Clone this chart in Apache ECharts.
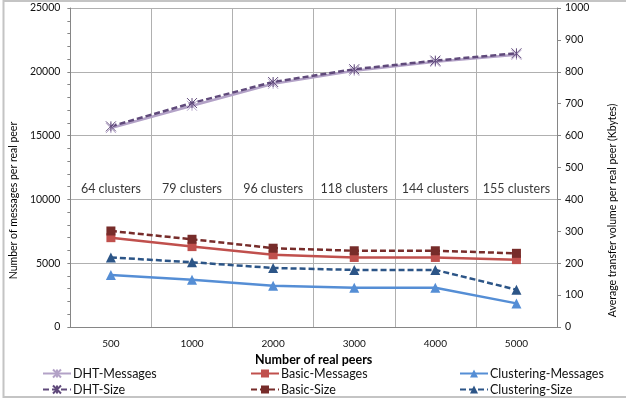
<!DOCTYPE html>
<html>
<head>
<meta charset="utf-8">
<script src="https://cdn.jsdelivr.net/npm/echarts@6/dist/echarts.min.js"></script>
<style>
  html, body { margin: 0; padding: 0; background: #fff; }
  #main { width: 626px; height: 400px; }
</style>
</head>
<body>
<div id="main"></div>
<script>
// x categories (number of real peers)
var peers = ['500', '1000', '2000', '3000', '4000', '5000'];
var clusters = ['64 clusters', '79 clusters', '96 clusters', '118 clusters', '144 clusters', '155 clusters'];

// messages per real peer (left axis)
var dhtMessages = [15590, 17340, 19060, 20080, 20780, 21330];
var basicMessages = [7000, 6300, 5660, 5450, 5450, 5280];
var clusteringMessages = [4070, 3700, 3230, 3080, 3080, 1850];

// transfer volume per real peer, Kbytes (right axis)
var dhtSize = [629, 702, 768, 808, 835, 858];
var basicSize = [301, 275, 247, 239, 239, 231];
var clusteringSize = [218, 203, 185, 179, 179, 117];

var clusterLabelY = 10815; // where the cluster text row sits on the left axis

var FONT = 'Lato';
var starPath = 'path://M0,0L10,10M10,0L0,10M5,0L5,10';

var chart = echarts.init(document.getElementById('main'), null, { renderer: 'canvas' });

function plain(v) { return String(v); }

function lineSeries(name, data, axis, color, dashed, symbol, size) {
  return {
    name: name,
    type: 'line',
    yAxisIndex: axis,
    data: data,
    symbol: symbol,
    symbolSize: size,
    showAllSymbol: true,
    lineStyle: { color: color, width: 2.5, type: dashed ? [6, 3] : 'solid' },
    itemStyle: { color: color, borderColor: color, borderWidth: symbol === starPath ? 1 : 0 },
    emphasis: { disabled: true },
    animation: false
  };
}

function legendAt(name, left, top) {
  return {
    data: [name],
    left: left,
    top: top,
    itemWidth: 28,
    itemHeight: 10,
    itemGap: 2,
    padding: 0,
    textStyle: { fontFamily: FONT, fontSize: 12.5, color: '#111', padding: [0, 0, 0, -3] },
    selectedMode: false
  };
}

var option = {
  backgroundColor: '#fff',
  textStyle: { fontFamily: FONT },
  grid: { left: 68, right: 57, top: 8, bottom: 73 },
  graphic: [{
    type: 'rect',
    shape: { x: 3.5, y: 1, width: 660, height: 396 },
    style: { fill: 'none', stroke: '#c4c4c4', lineWidth: 2 },
    silent: true
  }],
  legend: [
    legendAt('DHT-Messages', 42, 367),
    legendAt('Basic-Messages', 250, 367),
    legendAt('Clustering-Messages', 459, 367),
    legendAt('DHT-Size', 42, 383),
    legendAt('Basic-Size', 250, 383),
    legendAt('Clustering-Size', 459, 383)
  ],
  xAxis: {
    type: 'category',
    data: peers,
    boundaryGap: true,
    name: 'Number of real peers',
    nameLocation: 'middle',
    nameGap: 24,
    nameTextStyle: { fontFamily: FONT, fontSize: 12.5, fontWeight: 'bold', color: '#000' },
    axisLine: { lineStyle: { color: '#868686' } },
    axisTick: { show: false },
    axisLabel: { fontFamily: FONT, fontSize: 10, color: '#111', margin: 12 },
    splitLine: { show: true, lineStyle: { color: '#b0b0b0' } }
  },
  yAxis: [{
    type: 'value',
    min: 0,
    max: 25000,
    interval: 5000,
    name: 'Number of messages per real peer',
    nameLocation: 'middle',
    nameGap: 46,
    nameTextStyle: { fontFamily: FONT, fontSize: 10.5, color: '#000', padding: [0, 66, 0, 0] },
    axisLine: { show: true, lineStyle: { color: '#868686' } },
    axisTick: { show: true, length: 3, lineStyle: { color: '#868686' } },
    minorTick: { show: true, splitNumber: 5, length: 3, lineStyle: { color: '#868686' } },
    axisLabel: { fontFamily: FONT, fontSize: 10.5, color: '#111', margin: 10, formatter: plain },
    splitLine: { show: true, lineStyle: { color: '#b0b0b0' } }
  }, {
    type: 'value',
    min: 0,
    max: 1000,
    interval: 100,
    position: 'right',
    name: 'Average transfer volume per real peer (Kbytes)',
    nameLocation: 'middle',
    nameGap: 50,
    nameTextStyle: { fontFamily: FONT, fontSize: 10.5, color: '#000', padding: [0, 86, 0, 0] },
    axisLine: { show: true, lineStyle: { color: '#868686' } },
    axisTick: { show: true, length: 4, lineStyle: { color: '#868686' } },
    axisLabel: { fontFamily: FONT, fontSize: 10.5, color: '#111', margin: 8, formatter: plain },
    splitLine: { show: false }
  }],
  series: [
    {
      type: 'scatter',
      name: 'clusters',
      yAxisIndex: 0,
      symbolSize: 0,
      silent: true,
      data: clusters.map(function (c, i) { return [peers[i], clusterLabelY, c]; }),
      label: {
        show: true,
        position: 'inside',
        formatter: function (p) { return p.data[2]; },
        fontFamily: FONT,
        fontSize: 12.5,
        color: '#000'
      },
      animation: false
    },
    lineSeries('DHT-Messages', dhtMessages, 0, '#b3a2c7', false, starPath, 10),
    lineSeries('Basic-Messages', basicMessages, 0, '#c0504d', false, 'rect', 9),
    lineSeries('Clustering-Messages', clusteringMessages, 0, '#558ed5', false, 'triangle', 10),
    lineSeries('DHT-Size', dhtSize, 1, '#604a7b', true, starPath, 10),
    lineSeries('Basic-Size', basicSize, 1, '#772c2a', true, 'rect', 9),
    lineSeries('Clustering-Size', clusteringSize, 1, '#2c5587', true, 'triangle', 10)
  ]
};

chart.setOption(option);
</script>
</body>
</html>
